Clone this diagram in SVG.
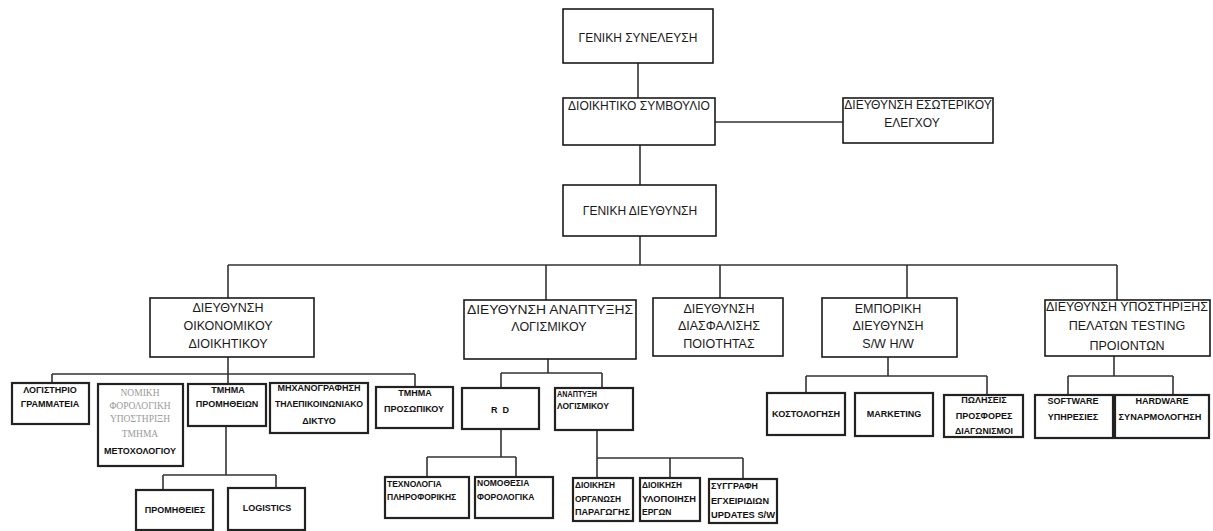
<svg xmlns="http://www.w3.org/2000/svg" width="1213" height="531" viewBox="0 0 1213 531">
<style>
.b{fill:#fff;stroke:#1a1a1a;stroke-width:1.6}
.b3{fill:#fff;stroke:#222;stroke-width:2.2}
.c{fill:none;stroke:#333;stroke-width:1.6}
.t{font-family:"Liberation Sans",Arial,sans-serif;font-size:12px;fill:#1a1a1a;text-anchor:middle}
.t2{font-family:"Liberation Sans",Arial,sans-serif;font-size:12.5px;fill:#1a1a1a;text-anchor:middle}
.s{font-family:"Liberation Sans",Arial,sans-serif;font-size:9px;font-weight:bold;fill:#111;text-anchor:middle}
.sl{font-family:"Liberation Sans",Arial,sans-serif;font-size:8.5px;font-weight:bold;fill:#111}
.g{font-family:"Liberation Serif",serif;font-size:9.5px;fill:#9a9a9a;text-anchor:middle}
</style>
<rect width="1213" height="531" fill="#fff"/>
<g id="connectors">
<path class="c" d="M638 63V98 M715 122H843 M640 145V185 M640 236V265 M228 265H1117 M228 265V298 M546 265V300 M720 265V298 M907 265V298 M1117 265V300"/>
<path class="c" d="M228 357V384 M52 374H415 M52 374V383 M415 374V387 M226 426V475 M163 475H276 M163 475V490 M276 475V488"/>
<path class="c" d="M548 359V373 M501 373H602 M501 373V388 M602 373V388 M501 429V457 M427 457H516 M427 457V477 M516 457V477 M597 430V458 M597 458H743 M597 458V478 M670 458V478 M743 458V479"/>
<path class="c" d="M888 357V376 M806 376H987 M806 376V393 M987 376V395 M1114 356V376 M1068 376H1173 M1068 376V395 M1173 376V395"/>
</g>
<g id="n-gs"><rect class="b" x="563" y="9" width="150" height="54"/><text class="t" x="638" y="42">ΓΕΝΙΚΗ ΣΥΝΕΛΕΥΣΗ</text></g>
<g id="n-ds"><rect class="b" x="563" y="98" width="152" height="47"/><text class="t" x="639" y="110">ΔΙΟΙΚΗΤΙΚΟ ΣΥΜΒΟΥΛΙΟ</text></g>
<g id="n-dee"><rect class="b" x="843" y="98" width="150" height="45"/><text class="t" x="918" y="109">ΔΙΕΥΘΥΝΣΗ ΕΣΩΤΕΡΙΚΟΥ</text><text class="t" x="912" y="127">ΕΛΕΓΧΟΥ</text></g>
<g id="n-gd"><rect class="b" x="563" y="185" width="153" height="51"/><text class="t" x="640" y="215">ΓΕΝΙΚΗ ΔΙΕΥΘΥΝΣΗ</text></g>
<g id="n-oik"><rect class="b" x="150" y="298" width="164" height="59"/><text class="t2" x="228" y="312">ΔΙΕΥΘΥΝΣΗ</text><text class="t2" x="228" y="330">ΟΙΚΟΝΟΜΙΚΟΥ</text><text class="t2" x="228" y="348">ΔΙΟΙΚΗΤΙΚΟΥ</text></g>
<g id="n-anap"><rect class="b" x="464" y="300" width="172" height="59"/><text class="t2" x="550" y="314" textLength="166" lengthAdjust="spacingAndGlyphs">ΔΙΕΥΘΥΝΣΗ ΑΝΑΠΤΥΞΗΣ</text><text class="t2" x="549" y="331">ΛΟΓΙΣΜΙΚΟΥ</text></g>
<g id="n-diasf"><rect class="b" x="653" y="298" width="130" height="58"/><text class="t2" x="719" y="313">ΔΙΕΥΘΥΝΣΗ</text><text class="t2" x="719" y="330">ΔΙΑΣΦΑΛΙΣΗΣ</text><text class="t2" x="719" y="348">ΠΟΙΟΤΗΤΑΣ</text></g>
<g id="n-emp"><rect class="b" x="822" y="298" width="135" height="59"/><text class="t2" x="888" y="313">ΕΜΠΟΡΙΚΗ</text><text class="t2" x="888" y="330">ΔΙΕΥΘΥΝΣΗ</text><text class="t2" x="888" y="348">S/W H/W</text></g>
<g id="n-ypost"><rect class="b" x="1045" y="300" width="165" height="56"/><text class="t2" x="1127" y="311" textLength="162" lengthAdjust="spacingAndGlyphs">ΔΙΕΥΘΥΝΣΗ ΥΠΟΣΤΗΡΙΞΗΣ</text><text class="t2" x="1127" y="330">ΠΕΛΑΤΩΝ TESTING</text><text class="t2" x="1127" y="350">ΠΡΟΙΟΝΤΩΝ</text></g>
<g id="n-log"><rect class="b3" x="12" y="383" width="77" height="41"/><text class="s" x="50" y="393">ΛΟΓΙΣΤΗΡΙΟ</text><text class="s" x="50" y="407">ΓΡΑΜΜΑΤΕΙΑ</text></g>
<g id="n-nom"><rect class="b3" x="98" y="384" width="85" height="82"/><text class="g" x="140" y="396">ΝΟΜΙΚΗ</text><text class="g" x="140" y="409">ΦΟΡΟΛΟΓΙΚΗ</text><text class="g" x="140" y="422">ΥΠΟΣΤΗΡΙΞΗ</text><text class="g" x="140" y="437">ΤΜΗΜΑ</text><text class="s" x="140" y="454">ΜΕΤΟΧΟΛΟΓΙΟΥ</text></g>
<g id="n-tpr"><rect class="b3" x="188" y="384" width="78" height="42"/><text class="s" x="228" y="393">ΤΜΗΜΑ</text><text class="s" x="227" y="407">ΠΡΟΜΗΘΕΙΩΝ</text></g>
<g id="n-mix"><rect class="b3" x="270" y="383" width="98" height="50"/><text class="s" x="319" y="391">ΜΗΧΑΝΟΓΡΑΦΗΣΗ</text><text class="s" x="319" y="407" textLength="88" lengthAdjust="spacingAndGlyphs">ΤΗΛΕΠΙΚΟΙΝΩΝΙΑΚΟ</text><text class="s" x="319" y="424">ΔΙΚΤΥΟ</text></g>
<g id="n-tpros"><rect class="b3" x="376" y="387" width="77" height="41"/><text class="s" x="415" y="396">ΤΜΗΜΑ</text><text class="s" x="414" y="412">ΠΡΟΣΩΠΙΚΟΥ</text></g>
<g id="n-prom"><rect class="b3" x="136" y="490" width="77" height="40"/><text class="s" x="175" y="513">ΠΡΟΜΗΘΕΙΕΣ</text></g>
<g id="n-logi"><rect class="b3" x="228" y="488" width="77" height="42"/><text class="s" x="267" y="511">LOGISTICS</text></g>
<g id="n-rd"><rect class="b3" x="462" y="388" width="77" height="41"/><text class="s" x="500" y="413" xml:space="preserve">R  D</text></g>
<g id="n-anl"><rect class="b3" x="555" y="388" width="78" height="42"/><text class="sl" x="557" y="397" textLength="40" lengthAdjust="spacingAndGlyphs">ΑΝΑΠΤΥΞΗ</text><text class="sl" x="557" y="409">ΛΟΓΙΣΜΙΚΟΥ</text></g>
<g id="n-tex"><rect class="b3" x="385" y="477" width="84" height="41"/><text class="sl" x="387" y="487">ΤΕΧΝΟΛΟΓΙΑ</text><text class="sl" x="387" y="500">ΠΛΗΡΟΦΟΡΙΚΗΣ</text></g>
<g id="n-nomo"><rect class="b3" x="475" y="477" width="78" height="41"/><text class="sl" x="477" y="486">ΝΟΜΟΘΕΣΙΑ</text><text class="sl" x="477" y="500">ΦΟΡΟΛΟΓΙΚΑ</text></g>
<g id="n-dio1"><rect class="b3" x="573" y="478" width="60" height="43"/><text class="sl" x="575" y="488" textLength="40" lengthAdjust="spacingAndGlyphs">ΔΙΟΙΚΗΣΗ</text><text class="sl" x="575" y="502" textLength="46" lengthAdjust="spacingAndGlyphs">ΟΡΓΑΝΩΣΗ</text><text class="sl" x="575" y="515" textLength="55" lengthAdjust="spacingAndGlyphs">ΠΑΡΑΓΩΓΗΣ</text></g>
<g id="n-dio2"><rect class="b3" x="640" y="478" width="60" height="43"/><text class="sl" x="642" y="488" textLength="40" lengthAdjust="spacingAndGlyphs">ΔΙΟΙΚΗΣΗ</text><text class="sl" x="642" y="502" textLength="54" lengthAdjust="spacingAndGlyphs">ΥΛΟΠΟΙΗΣΗ</text><text class="sl" x="642" y="515">ΕΡΓΩΝ</text></g>
<g id="n-syg"><rect class="b3" x="709" y="479" width="68" height="44"/><text class="sl" x="711" y="489" textLength="47" lengthAdjust="spacingAndGlyphs">ΣΥΓΓΡΑΦΗ</text><text class="sl" x="711" y="504" textLength="58" lengthAdjust="spacingAndGlyphs">ΕΓΧΕΙΡΙΔΙΩΝ</text><text class="sl" x="711" y="518" textLength="64" lengthAdjust="spacingAndGlyphs">UPDATES S/W</text></g>
<g id="n-kost"><rect class="b3" x="767" y="393" width="78" height="42"/><text class="s" x="806" y="417" textLength="68" lengthAdjust="spacingAndGlyphs">ΚΟΣΤΟΛΟΓΗΣΗ</text></g>
<g id="n-mark"><rect class="b3" x="855" y="393" width="78" height="43"/><text class="s" x="894" y="417">MARKETING</text></g>
<g id="n-pol"><rect class="b3" x="944" y="395" width="79" height="42"/><text class="s" x="984" y="403">ΠΩΛΗΣΕΙΣ</text><text class="s" x="984" y="419">ΠΡΟΣΦΟΡΕΣ</text><text class="s" x="984" y="434" textLength="58" lengthAdjust="spacingAndGlyphs">ΔΙΑΓΩΝΙΣΜΟΙ</text></g>
<g id="n-soft"><rect class="b3" x="1035" y="395" width="78" height="43"/><text class="s" x="1073" y="404">SOFTWARE</text><text class="s" x="1073" y="420">ΥΠΗΡΕΣΙΕΣ</text></g>
<g id="n-hard"><rect class="b3" x="1115" y="395" width="94" height="43"/><text class="s" x="1162" y="404">HARDWARE</text><text class="s" x="1160" y="420" textLength="83" lengthAdjust="spacingAndGlyphs">ΣΥΝΑΡΜΟΛΟΓΗΣΗ</text></g>
</svg>
